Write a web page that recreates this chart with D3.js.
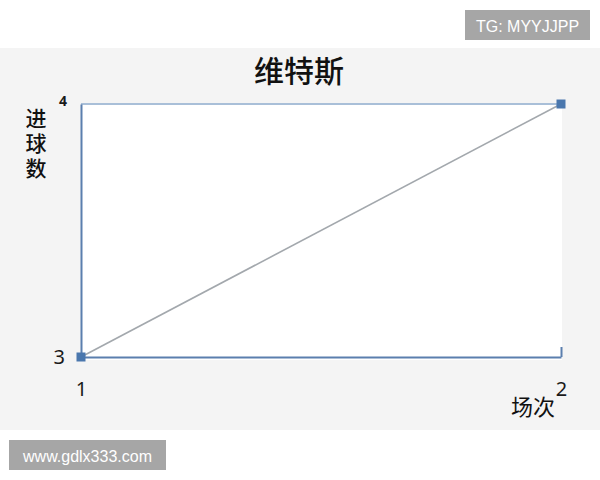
<!DOCTYPE html>
<html lang="zh">
  <head>
    <meta charset="utf-8" />
    <title>维特斯</title>
    <script src="https://d3js.org/d3.v7.min.js"></script>
    <style>
      body { margin: 0; background: #fff; }
      text { font-family: "Noto Sans CJK SC", "Noto Sans", sans-serif; }
    </style>
  </head>
  <body>
    <div id="svgContainer"></div>
  </body>
  <script>
    // data
    var matches = [1, 2];          // 场次
    var goals = [3, 4];            // 进球数
    var xTicks = [1, 2];
    var yTicks = [3, 4];
    var title = "维特斯";
    var yTitle = "进球数";
    var xTitle = "场次";

    var width = 600,
        height = 480;

    var svg = d3.select("#svgContainer")
                .append("svg")
                .attr("width", width)
                .attr("height", height);

    // grey chart band
    svg.append("rect")
        .attr("x", 0).attr("y", 48)
        .attr("width", width).attr("height", 382)
        .attr("fill", "#f4f4f4");

    var x = d3.scaleLinear().domain([1, 2]).range([81, 561]);
    var y = d3.scaleLinear().domain([3, 4]).range([357, 104]);

    // white plot area
    svg.append("rect")
        .attr("x", x(1)).attr("y", y(4))
        .attr("width", x(2) - x(1) + 1).attr("height", y(3) - y(4) + 3)
        .attr("fill", "#ffffff");

    // gridline at top value
    svg.append("line")
        .attr("x1", x(1)).attr("x2", x(2))
        .attr("y1", y(4)).attr("y2", y(4))
        .attr("stroke", "#a9bfd8")
        .attr("stroke-width", 2);

    var axisColor = "#5b7fae";

    var gx = svg.append("g")
        .attr("transform", "translate(0," + y(3) + ")")
        .call(d3.axisBottom(x)
                .tickValues(xTicks)
                .tickFormat(d3.format("d"))
                .tickSizeInner(-10)
                .tickSizeOuter(0)
                .tickPadding(25));

    var gy = svg.append("g")
        .attr("transform", "translate(" + x(1) + ",0)")
        .call(d3.axisLeft(y)
                .tickValues(yTicks)
                .tickFormat(d3.format("d"))
                .tickSize(0)
                .tickPadding(16));

    [gx, gy].forEach(function(g) {
      g.select(".domain").attr("stroke", axisColor).attr("stroke-width", 2);
      g.selectAll(".tick line").attr("stroke", axisColor).attr("stroke-width", 2);
      g.selectAll(".tick text")
          .attr("fill", "#1a1a1a")
          .style("font-family", "'Noto Sans', sans-serif")
          .style("font-size", "20px");
    });
    gx.selectAll(".tick line").filter(function(d) { return d === 1; }).remove();

    // the top y label sits small and raised
    gy.selectAll(".tick text")
        .filter(function(d) { return d === 4; })
        .attr("x", -14)
        .attr("y", -3)
        .style("font-size", "14px")
        .style("font-weight", "bold");

    // series line + markers
    var pts = matches.map(function(m, i) { return {x: m, y: goals[i]}; });

    svg.append("path")
        .datum(pts)
        .attr("d", d3.line().x(function(d) { return x(d.x); })
                            .y(function(d) { return y(d.y); }))
        .attr("fill", "none")
        .attr("stroke", "#a3a8ad")
        .attr("stroke-width", 1.6);

    svg.selectAll("rect.marker")
        .data(pts)
        .enter().append("rect")
        .attr("class", "marker")
        .attr("x", function(d) { return x(d.x) - 4.5; })
        .attr("y", function(d) { return y(d.y) - 4.5; })
        .attr("width", 9).attr("height", 9)
        .attr("fill", "#4a77ad");

    // titles
    svg.append("text")
        .attr("x", 299).attr("y", 69)
        .attr("text-anchor", "middle")
        .attr("dominant-baseline", "central")
        .style("font-size", "30px")
        .style("font-weight", 500)
        .attr("fill", "#111")
        .text(title);

    // y title stacked top to bottom, upright characters
    svg.append("text")
        .attr("x", 36).attr("y", 108)
        .style("writing-mode", "vertical-rl")
        .style("text-orientation", "upright")
        .style("letter-spacing", "4px")
        .style("font-size", "21px")
        .style("font-weight", 500)
        .attr("fill", "#111")
        .text(yTitle);

    svg.append("text")
        .attr("x", 533).attr("y", 405)
        .attr("text-anchor", "middle")
        .attr("dominant-baseline", "central")
        .style("font-size", "22px")
        .attr("fill", "#111")
        .text(xTitle);

    // watermark boxes
    var marks = [
      {text: "TG: MYYJJPP", x: 465, y: 10, w: 125, h: 30},
      {text: "www.gdlx333.com", x: 9, y: 440, w: 157, h: 30}
    ];
    var wm = svg.selectAll("g.wm")
        .data(marks)
        .enter().append("g")
        .attr("class", "wm");
    wm.append("rect")
        .attr("x", function(d) { return d.x; })
        .attr("y", function(d) { return d.y; })
        .attr("width", function(d) { return d.w; })
        .attr("height", function(d) { return d.h; })
        .attr("fill", "#a6a6a6");
    wm.append("text")
        .attr("x", function(d) { return d.x + d.w / 2; })
        .attr("y", function(d) { return d.y + d.h / 2 + 1; })
        .attr("text-anchor", "middle")
        .attr("dominant-baseline", "central")
        .style("font-family", "'Liberation Sans', Arial, sans-serif")
        .style("font-size", "16px")
        .attr("fill", "#ffffff")
        .text(function(d) { return d.text; });
  </script>
</html>
